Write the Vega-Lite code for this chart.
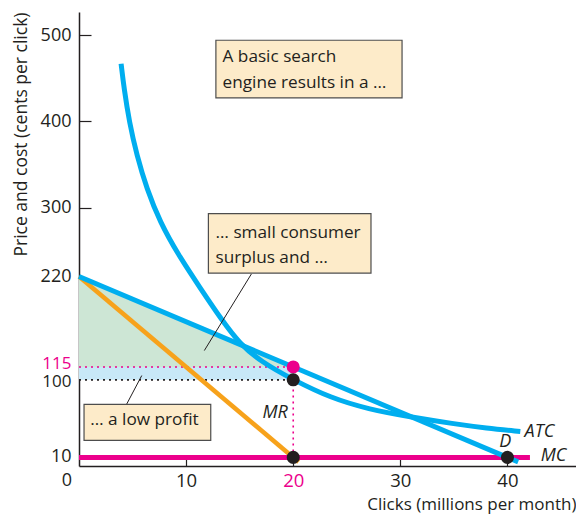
{
  "$schema": "https://vega.github.io/schema/vega-lite/v6.json",
  "width": 497,
  "height": 454,
  "autosize": {"type": "none"},
  "padding": {"left": 79, "top": 12, "right": 0, "bottom": 54},
  "background": "white",
  "config": {
    "view": {"stroke": null},
    "font": "Open Sans",
    "text": {"font": "Open Sans", "color": "#231f20"}
  },
  "datasets": {
    "demand": [{"q": 0, "p": 220}, {"q": 41, "p": 4.75}],
    "mr": [{"q": 0, "p": 220}, {"q": 20.5, "p": 4.75}],
    "mc": [{"q": 0, "p": 10}, {"q": 42.1, "p": 10}],
    "atc": [
      {"q": 3.93, "p": 467}, {"q": 4.21, "p": 438}, {"q": 4.7, "p": 399}, {"q": 5.39, "p": 361},
      {"q": 6.32, "p": 322}, {"q": 7.57, "p": 283}, {"q": 9.28, "p": 245}, {"q": 11.3, "p": 207},
      {"q": 13.3, "p": 170}, {"q": 15, "p": 142}, {"q": 17, "p": 121}, {"q": 20, "p": 100},
      {"q": 23.5, "p": 79}, {"q": 27, "p": 66}, {"q": 30.9, "p": 57}, {"q": 35, "p": 49},
      {"q": 38, "p": 44}, {"q": 41.2, "p": 40}
    ],
    "cs": [{"q": 0, "p": 220, "p2": 115}, {"q": 20, "p": 115, "p2": 115}],
    "profit": [{"q": 0, "q2": 20, "p": 100, "p2": 115}],
    "dotMagenta": [
      {"q": 0, "q2": 20, "p": 115, "p2": 115},
      {"q": 20, "q2": 20, "p": 10, "p2": 100}
    ],
    "dotBlack": [{"q": 0, "q2": 20, "p": 100, "p2": 100}],
    "leaders": [
      {"q": 16.1, "q2": 11.7, "p": 223, "p2": 134},
      {"q": 4.45, "q2": 5.86, "p": 71.8, "p2": 105}
    ],
    "boxes": [
      {"q": 12.78, "q2": 30.16, "p": 494.2, "p2": 427.3},
      {"q": 12.08, "q2": 27.26, "p": 293, "p2": 224},
      {"q": 0.47, "q2": 12.3, "p": 71.5, "p2": 29.8}
    ],
    "boxText": [
      {"q": 13.4, "p": 475, "t": "A basic search"},
      {"q": 13.4, "p": 445, "t": "engine results in a …"},
      {"q": 12.75, "p": 270, "t": "… small consumer"},
      {"q": 12.75, "p": 241.5, "t": "surplus and …"},
      {"q": 1.05, "p": 53, "t": "… a low profit"}
    ],
    "ptMagenta": [{"q": 20, "p": 115}],
    "ptBlack": [{"q": 20, "p": 100}, {"q": 20, "p": 10}, {"q": 40, "p": 10}],
    "curveLabelsRight": [{"q": 19.5, "p": 61, "t": "MR"}],
    "curveLabelsCenter": [{"q": 39.8, "p": 28, "t": "D"}],
    "curveLabelsLeft": [{"q": 41.6, "p": 40, "t": "ATC"}, {"q": 43.1, "p": 12, "t": "MC"}],
    "origin": [{"q": 0, "p": 0, "t": "0"}]
  },
  "encoding": {
    "x": {"field": "q", "type": "quantitative",
      "scale": {"domain": [0, 46.4], "nice": false, "zero": false}},
    "y": {"field": "p", "type": "quantitative",
      "scale": {"domain": [0, 527], "nice": false, "zero": false}}
  },
  "layer": [
    {
      "data": {"name": "cs"},
      "mark": {"type": "area", "color": "#cde6d5", "opacity": 1},
      "encoding": {
        "x": {"field": "q", "type": "quantitative",
          "axis": {"values": [10, 20, 30, 40], "title": "Clicks (millions per month)",
            "domainColor": "#231f20", "domainWidth": 1.5, "grid": false,
            "tickColor": "#231f20", "tickWidth": 1.2, "tickSize": -7,
            "labelFontSize": 18.5, "labelFont": "Open Sans", "labelPadding": 12, "labelOverlap": false,
            "labelColor": {"condition": {"test": "datum.value == 20", "value": "#EC008C"}, "value": "#231f20"},
            "titleFont": "Open Sans", "titleFontSize": 17, "titleFontWeight": "normal", "titleColor": "#231f20",
            "titleAnchor": "end", "titlePadding": 7}},
        "y": {"field": "p", "type": "quantitative",
          "axis": {"values": [10, 100, 115, 220, 300, 400, 500], "title": "Price and cost (cents per click)",
            "domainColor": "#231f20", "domainWidth": 1.5, "grid": false,
            "tickColor": "#231f20", "tickWidth": 1.2, "tickSize": -12,
            "tickOpacity": {"condition": {"test": "datum.value >= 300", "value": 1}, "value": 0},
            "labelFontSize": {"condition": {"test": "datum.value == 100 || datum.value == 115", "value": 17}, "value": 18},
            "labelFont": "Open Sans", "labelPadding": 20, "labelOverlap": false,
            "labelOffset": {"condition": [{"test": "datum.value == 115", "value": -3.5}, {"test": "datum.value == 100", "value": 1.5}, {"test": "datum.value == 10", "value": -1}], "value": 0},
            "labelColor": {"condition": {"test": "datum.value == 115", "value": "#EC008C"}, "value": "#231f20"},
            "titleFont": "Open Sans", "titleFontSize": 17.5, "titleFontWeight": "normal", "titleColor": "#231f20",
            "titleAnchor": "end", "titlePadding": 10}},
        "y2": {"field": "p2"}
      }
    },
    {
      "data": {"name": "profit"},
      "mark": {"type": "rect", "color": "#c8e8f7"},
      "encoding": {"x2": {"field": "q2"}, "y2": {"field": "p2"}}
    },
    {
      "data": {"name": "dotMagenta"},
      "mark": {"type": "rule", "color": "#EC008C", "strokeWidth": 1.6, "strokeDash": [2, 4]},
      "encoding": {"x2": {"field": "q2"}, "y2": {"field": "p2"}}
    },
    {
      "data": {"name": "dotBlack"},
      "mark": {"type": "rule", "color": "#231f20", "strokeWidth": 1.6, "strokeDash": [2, 4]},
      "encoding": {"x2": {"field": "q2"}, "y2": {"field": "p2"}}
    },
    {
      "data": {"name": "mr"},
      "mark": {"type": "line", "color": "#F7A21B", "strokeWidth": 4.5},
      "encoding": {}
    },
    {
      "data": {"name": "mc"},
      "mark": {"type": "line", "color": "#EC008C", "strokeWidth": 5},
      "encoding": {}
    },
    {
      "data": {"name": "demand"},
      "mark": {"type": "line", "color": "#00AEEF", "strokeWidth": 5},
      "encoding": {}
    },
    {
      "data": {"name": "atc"},
      "mark": {"type": "line", "color": "#00AEEF", "strokeWidth": 5, "interpolate": "basis"},
      "encoding": {}
    },
    {
      "data": {"name": "leaders"},
      "mark": {"type": "rule", "color": "#231f20", "strokeWidth": 1},
      "encoding": {"x2": {"field": "q2"}, "y2": {"field": "p2"}}
    },
    {
      "data": {"name": "boxes"},
      "mark": {"type": "rect", "fill": "#fdebc9", "stroke": "#4d4d4d", "strokeWidth": 1.2},
      "encoding": {"x2": {"field": "q2"}, "y2": {"field": "p2"}}
    },
    {
      "data": {"name": "boxText"},
      "mark": {"type": "text", "align": "left", "baseline": "middle", "fontSize": 17.2, "color": "#231f20"},
      "encoding": {"text": {"field": "t"}}
    },
    {
      "data": {"name": "ptMagenta"},
      "mark": {"type": "point", "filled": true, "color": "#EC008C", "size": 170, "opacity": 1},
      "encoding": {}
    },
    {
      "data": {"name": "ptBlack"},
      "mark": {"type": "point", "filled": true, "color": "#231f20", "size": 170, "opacity": 1},
      "encoding": {}
    },
    {
      "data": {"name": "curveLabelsRight"},
      "mark": {"type": "text", "align": "right", "baseline": "middle", "fontSize": 18, "fontStyle": "italic", "color": "#231f20"},
      "encoding": {"text": {"field": "t"}}
    },
    {
      "data": {"name": "curveLabelsCenter"},
      "mark": {"type": "text", "align": "center", "baseline": "middle", "fontSize": 18, "fontStyle": "italic", "color": "#231f20"},
      "encoding": {"text": {"field": "t"}}
    },
    {
      "data": {"name": "curveLabelsLeft"},
      "mark": {"type": "text", "align": "left", "baseline": "middle", "fontSize": 18, "fontStyle": "italic", "color": "#231f20"},
      "encoding": {"text": {"field": "t"}}
    },
    {
      "data": {"name": "origin"},
      "mark": {"type": "text", "align": "center", "baseline": "middle", "fontSize": 18, "dx": -12, "dy": 15, "color": "#231f20"},
      "encoding": {"text": {"field": "t"}}
    }
  ]
}
